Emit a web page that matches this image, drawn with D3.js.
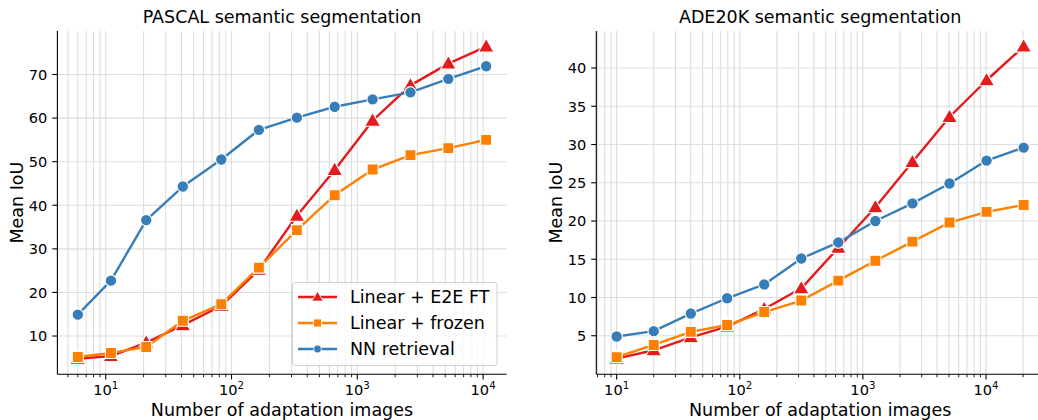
<!DOCTYPE html>
<html>
<head>
<meta charset="utf-8">
<script src="https://cdn.jsdelivr.net/npm/d3@7"></script>
<style>
  html, body { margin: 0; padding: 0; background: #fff; }
  svg { display: block; font-family: "DejaVu Sans", sans-serif; }
</style>
</head>
<body>
<svg id="chart" width="1038" height="420"></svg>
<script>
// ---------- Data ----------
const seriesNames = ["Linear + E2E FT", "Linear + frozen", "NN retrieval"];
const seriesColors = ["#e41a1c", "#ff7f00", "#377eb8"];
const seriesMarkers = ["triangle", "square", "circle"];

const pascalImages = [6, 11, 21, 41, 83, 165, 331, 661, 1323, 2646, 5291, 10582];
const pascalE2E    = [4.8, 5.4, 8.5, 12.5, 16.9, 25.2, 37.6, 48.1, 59.4, 67.5, 72.5, 76.4];
const pascalFrozen = [5.2, 6.1, 7.5, 13.5, 17.3, 25.7, 34.3, 42.3, 48.2, 51.5, 53.1, 55.0];
const pascalNN     = [14.9, 22.7, 36.6, 44.3, 50.5, 57.3, 60.1, 62.6, 64.3, 65.9, 69.0, 71.9];
const pascalYTicks = [10, 20, 30, 40, 50, 60, 70];

const adeImages = [10, 20, 40, 79, 158, 316, 632, 1263, 2526, 5053, 10105, 20210];
const adeE2E    = [2.0, 3.1, 4.8, 6.2, 8.5, 11.2, 16.5, 21.8, 27.7, 33.6, 38.4, 42.8];
const adeFrozen = [2.2, 3.8, 5.5, 6.4, 8.1, 9.6, 12.2, 14.8, 17.3, 19.8, 21.2, 22.1];
const adeNN     = [4.9, 5.6, 7.9, 9.9, 11.7, 15.1, 17.2, 20.0, 22.3, 24.9, 27.9, 29.6];
const adeYTicks = [5, 10, 15, 20, 25, 30, 35, 40];

const xTickExps = [1, 2, 3, 4];

const panels = [
  { title: "PASCAL semantic segmentation", x: pascalImages,
    series: [pascalE2E, pascalFrozen, pascalNN], yTicks: pascalYTicks,
    left: 57.4, right: 506.6, legend: true },
  { title: "ADE20K semantic segmentation", x: adeImages,
    series: [adeE2E, adeFrozen, adeNN], yTicks: adeYTicks,
    left: 596.3, right: 1044, legend: false }
];

const svg = d3.select("#chart");
const TOP = 31, BOTTOM = 374.3;
const GRID = "#dddddd";

function markerPath(type, size) {
  if (type === "triangle") return d3.symbol(d3.symbolTriangle, size * size * 0.62)();
  if (type === "square") return d3.symbol(d3.symbolSquare, size * size)();
  return d3.symbol(d3.symbolCircle, Math.PI * size * size / 4)();
}
const markerSize = { triangle: 13.2, square: 11, circle: 11.5 };

panels.forEach(p => {
  const lx = d3.extent(p.x).map(Math.log10);
  const px = (lx[1] - lx[0]) * 0.05;
  const x = d3.scaleLog().domain([Math.pow(10, lx[0] - px), Math.pow(10, lx[1] + px)])
    .range([p.left, p.right]);
  const allY = p.series.flat();
  const ey = d3.extent(allY);
  const py = (ey[1] - ey[0]) * 0.05;
  const y = d3.scaleLinear().domain([ey[0] - py, ey[1] + py]).range([BOTTOM, TOP]);

  const g = svg.append("g");

  // minor + major x grid
  const [d0, d1] = x.domain();
  const xGridVals = [];
  for (let k = Math.floor(Math.log10(d0)); k <= Math.ceil(Math.log10(d1)); k++) {
    for (let m = 1; m <= 9; m++) {
      const v = m * Math.pow(10, k);
      if (v >= d0 && v <= d1) xGridVals.push({ v, major: m === 1 });
    }
  }
  g.selectAll(".xgrid").data(xGridVals).join("line")
    .attr("x1", d => x(d.v)).attr("x2", d => x(d.v))
    .attr("y1", TOP).attr("y2", BOTTOM)
    .attr("stroke", GRID).attr("stroke-width", 1.1);
  g.selectAll(".ygrid").data(p.yTicks).join("line")
    .attr("x1", p.left).attr("x2", p.right)
    .attr("y1", d => y(d)).attr("y2", d => y(d))
    .attr("stroke", GRID).attr("stroke-width", 1.1);

  // series
  const line = d3.line().x(d => x(d[0])).y(d => y(d[1]));
  p.series.forEach((vals, i) => {
    const pts = p.x.map((xv, j) => [xv, vals[j]]);
    g.append("path").attr("d", line(pts))
      .attr("fill", "none").attr("stroke", seriesColors[i])
      .attr("stroke-width", 2.4).attr("stroke-linejoin", "round").attr("stroke-linecap", "round");
    g.selectAll(null).data(pts).join("path")
      .attr("d", markerPath(seriesMarkers[i], markerSize[seriesMarkers[i]]))
      .attr("transform", d => `translate(${x(d[0])},${y(d[1]) + (seriesMarkers[i] === "triangle" ? 1 : 0)})`)
      .attr("fill", seriesColors[i]).attr("stroke", "#fff").attr("stroke-width", 1.1);
  });

  // spines
  g.append("line").attr("x1", p.left).attr("x2", p.left).attr("y1", TOP).attr("y2", BOTTOM)
    .attr("stroke", "#000").attr("stroke-width", 1.1);
  g.append("line").attr("x1", p.left).attr("x2", p.right).attr("y1", BOTTOM).attr("y2", BOTTOM)
    .attr("stroke", "#000").attr("stroke-width", 1.1);

  // x ticks
  g.selectAll(".xt").data(xGridVals).join("line")
    .attr("x1", d => x(d.v)).attr("x2", d => x(d.v))
    .attr("y1", BOTTOM).attr("y2", d => BOTTOM + (d.major ? 5.1 : 2.9))
    .attr("stroke", "#000").attr("stroke-width", d => d.major ? 1.1 : 0.9);
  xTickExps.forEach(e => {
    const t = g.append("text").attr("x", x(Math.pow(10, e))).attr("y", 395)
      .attr("text-anchor", "middle").attr("font-size", 14.6).attr("fill", "#000");
    t.append("tspan").text("10");
    t.append("tspan").attr("dy", -6.5).attr("font-size", 10.2).text(String(e));
  });

  // y ticks
  g.selectAll(".yt").data(p.yTicks).join("line")
    .attr("x1", p.left - 5.1).attr("x2", p.left)
    .attr("y1", d => y(d)).attr("y2", d => y(d))
    .attr("stroke", "#000").attr("stroke-width", 1.1);
  g.selectAll(".ytl").data(p.yTicks).join("text")
    .attr("x", p.left - 10).attr("y", d => y(d) + 5.3)
    .attr("text-anchor", "end").attr("font-size", 14.6).attr("fill", "#000")
    .text(d => d);

  // labels
  const cx = (p.left + p.right) / 2;
  g.append("text").attr("x", cx).attr("y", 23).attr("text-anchor", "middle")
    .attr("font-size", 17.5).attr("fill", "#000").text(p.title);
  g.append("text").attr("x", cx).attr("y", 416).attr("text-anchor", "middle")
    .attr("font-size", 17.5).attr("fill", "#000").text("Number of adaptation images");
  const ylx = p.left - 34.5, yly = (TOP + BOTTOM) / 2;
  g.append("text").attr("transform", `translate(${ylx},${yly}) rotate(-90)`)
    .attr("text-anchor", "middle").attr("font-size", 17.5).attr("fill", "#000").text("Mean IoU");

  // legend
  if (p.legend) {
    const lg = g.append("g");
    lg.append("rect").attr("x", 292.5).attr("y", 282.5).attr("width", 204.5).attr("height", 83)
      .attr("rx", 3).attr("fill", "rgba(255,255,255,0.8)").attr("stroke", "#d0d0d0").attr("stroke-width", 1);
    const rows = [297, 323, 349];
    seriesNames.forEach((name, i) => {
      lg.append("line").attr("x1", 298).attr("x2", 337).attr("y1", rows[i]).attr("y2", rows[i])
        .attr("stroke", seriesColors[i]).attr("stroke-width", 2.4);
      lg.append("path").attr("d", markerPath(seriesMarkers[i], seriesMarkers[i] === "triangle" ? 9.5 : 8))
        .attr("transform", `translate(317.5,${rows[i] + (seriesMarkers[i] === "triangle" ? 0.8 : 0)})`)
        .attr("fill", seriesColors[i]).attr("stroke", "#fff").attr("stroke-width", 0.8);
      lg.append("text").attr("x", 350).attr("y", rows[i] + 6.3).attr("font-size", 17.5)
        .attr("fill", "#000").text(name);
    });
  }
});
</script>
</body>
</html>
